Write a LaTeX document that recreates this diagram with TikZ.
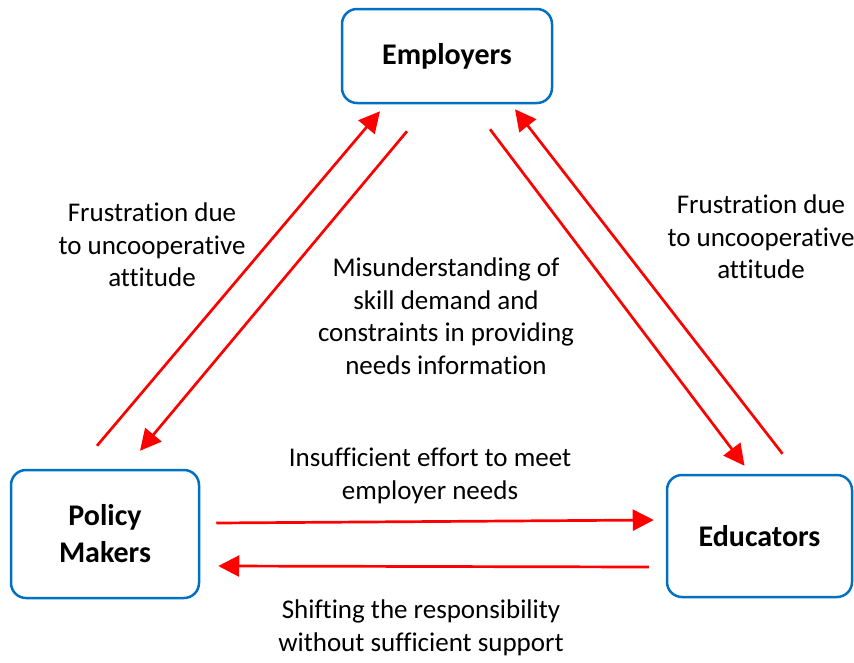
\documentclass[tikz,border=0pt]{standalone}
\usepackage{fontspec}
\setmainfont[Ligatures={NoCommon}]{Carlito}
\usetikzlibrary{arrows.meta,positioning}

\begin{document}
\begin{tikzpicture}[x=1pt,y=-1pt,
  box/.style={rectangle, draw={rgb,255:red,0;green,112;blue,192}, line width=2.5pt, rounded corners=15pt,
    inner sep=0pt, align=center, font=\fontsize{30}{37}\selectfont\bfseries},
  line/.style={draw=red, line width=2.7pt, -{Triangle[length=21pt,width=21pt]}},
  note/.style={align=center, font=\fontsize{27}{32.5}\selectfont}]

  \useasboundingbox (0,0) rectangle (854,662);

  \node [box, minimum width=210pt, minimum height=94pt] (emp) at (447,56) {Employers};
  \node [box, minimum width=188pt, minimum height=128pt] (pm) at (105,534) {Policy\\Makers};
  \node [box, minimum width=185pt, minimum height=122pt] (edu) at (759.5,536) {Educators};

  \draw [line] ([shift={(-8,-23)}]pm.north) -- ([shift={(-67,7)}]emp.south);
  \draw [line] ([shift={(-40,27)}]emp.south) -- ([shift={(35,-18)}]pm.north);
  \draw [line] ([shift={(43,25)}]emp.south) -- ([shift={(-15,-8)}]edu.north);
  \draw [line] ([shift={(23,-20)}]edu.north) -- ([shift={(68,5)}]emp.south);
  \draw [line] ([shift={(16,-11)}]pm.east) -- ([shift={(-12,-16)}]edu.west);
  \draw [line] ([shift={(-17,31)}]edu.west) -- ([shift={(18,32)}]pm.east);

  \node [note] (frl) at (152,245) {Frustration due\\to uncooperative\\attitude};
  \node [note] (frr) at (761,237) {Frustration due\\to uncooperative\\attitude};
  \node [note] (mis) at (446,316) {Misunderstanding of\\skill demand and\\constraints in providing\\needs information};
  \node [note] (ins) at (430,476) {Insufficient effort to meet\\employer needs};
  \node [note] (shi) at (421,628) {Shifting the responsibility\\without sufficient support};
\end{tikzpicture}
\end{document}
